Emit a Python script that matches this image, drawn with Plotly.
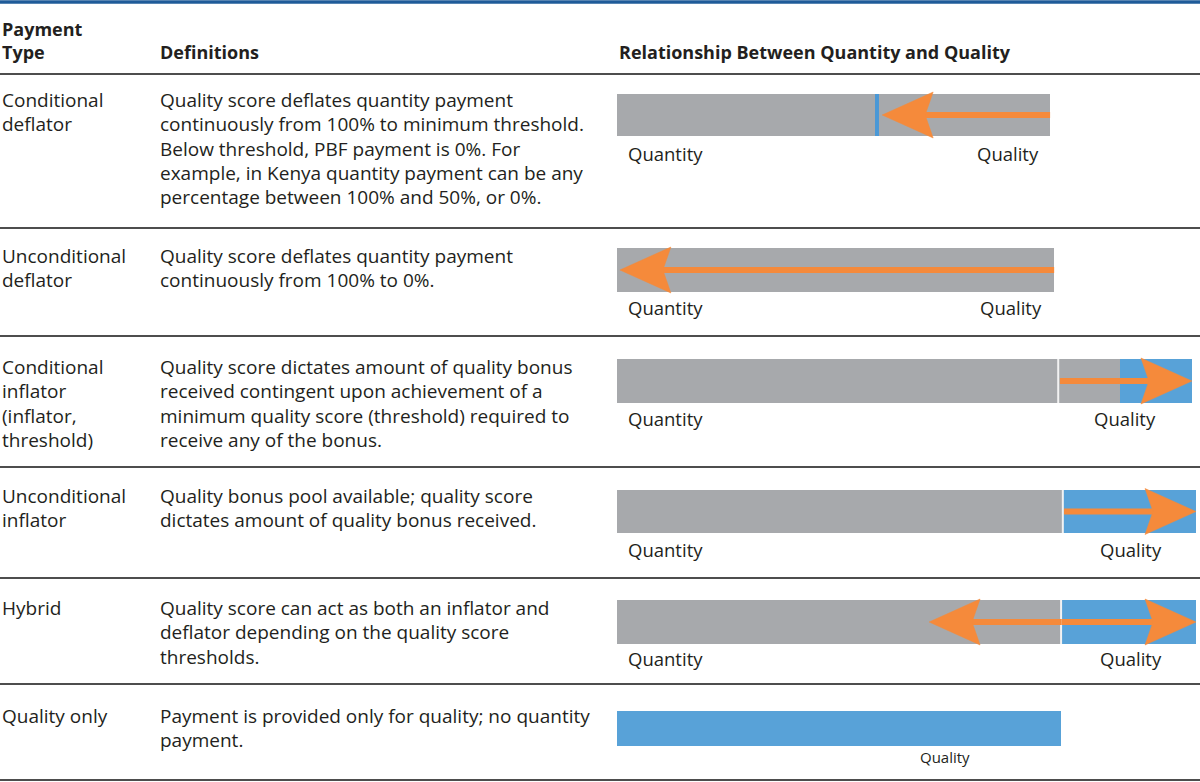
import plotly.graph_objects as go

# ---------------- data ----------------
payment_types = [
    ["Conditional", "deflator"],
    ["Unconditional", "deflator"],
    ["Conditional", "inflator", "(inflator,", "threshold)"],
    ["Unconditional", "inflator"],
    ["Hybrid"],
    ["Quality only"],
]
definitions = [
    ["Quality score deflates quantity payment",
     "continuously from 100% to minimum threshold.",
     "Below threshold, PBF payment is 0%. For",
     "example, in Kenya quantity payment can be any",
     "percentage between 100% and 50%, or 0%."],
    ["Quality score deflates quantity payment",
     "continuously from 100% to 0%."],
    ["Quality score dictates amount of quality bonus",
     "received contingent upon achievement of a",
     "minimum quality score (threshold) required to",
     "receive any of the bonus."],
    ["Quality bonus pool available; quality score",
     "dictates amount of quality bonus received."],
    ["Quality score can act as both an inflator and",
     "deflator depending on the quality score",
     "thresholds."],
    ["Payment is provided only for quality; no quantity",
     "payment."],
]
header_type = ["Payment", "Type"]
header_def = "Definitions"
header_rel = "Relationship Between Quantity and Quality"

# bar segments on a 0-100 scale of the relationship column
gray_row = [0, 1, 2, 3, 4]
gray_start = [0, 0, 0, 0, 0]
gray_end = [74.8, 75.5, 86.9, 77.0, 76.7]

blue_row = [2, 3, 4, 5]
blue_start = [86.9, 77.0, 76.7, 0]
blue_end = [99.3, 100, 100, 76.7]

threshold_row = [0]
threshold_x = [44.9]

divider_row = [2, 3, 4]
divider_x = [76.2, 77.0, 76.7]

arrow_row = [0, 1, 2, 3, 4, 4]
arrow_from = [74.8, 75.5, 76.5, 77.2, 76.8, 76.8]
arrow_to = [45.8, 0.5, 99.3, 100, 53.9, 100]

# ---------------- layout / style ----------------
W, H = 1200, 782
COL_X = [0, 158, 617]
REL_DOMAIN = (617, 1196)
PX_PER_UNIT = (REL_DOMAIN[1] - REL_DOMAIN[0]) / 100.0
rule_y = [74, 228, 336, 467, 578, 684, 780]
text_y0 = [100, 256, 367, 496, 608, 716]
LINE_SP = 24.3
bar_cy = [115, 270, 381, 511.5, 622, 728]
bar_h = [42, 44, 44, 43, 44, 35]
label_y = [153, 307, 418, 549, 658, 757]
quality_label_x = [1008, 1011, 1125, 1131, 1131, 945]

GRAY = "#a7a9ac"
BLUE = "#58a2d8"
ORANGE = "#f58a3b"
TXT = "#231f20"
BODY_FONT = "Open Sans"
LBL_FONT = "Open Sans"
BODY_SIZE = 19
HEAD_SIZE = 18
LBL_SIZE = 18.5

fig = go.Figure()

# gray segments
for r, s, e in zip(gray_row, gray_start, gray_end):
    fig.add_trace(go.Bar(orientation="h", y=[bar_cy[r]], x=[e - s], base=[s],
                         width=bar_h[r], marker=dict(color=GRAY, line=dict(width=0)),
                         xaxis="x2", yaxis="y", hoverinfo="skip", showlegend=False))
# blue segments
for r, s, e in zip(blue_row, blue_start, blue_end):
    fig.add_trace(go.Bar(orientation="h", y=[bar_cy[r]], x=[e - s], base=[s],
                         width=bar_h[r], marker=dict(color=BLUE, line=dict(width=0)),
                         xaxis="x2", yaxis="y", hoverinfo="skip", showlegend=False))
# white dividers
for r, x in zip(divider_row, divider_x):
    fig.add_trace(go.Scatter(x=[x, x], y=[bar_cy[r] - bar_h[r] / 2, bar_cy[r] + bar_h[r] / 2],
                             mode="lines", line=dict(color="#f2f2f2", width=2),
                             xaxis="x2", yaxis="y", hoverinfo="skip", showlegend=False))
# threshold marker
for r, x in zip(threshold_row, threshold_x):
    fig.add_trace(go.Scatter(x=[x, x], y=[bar_cy[r] - bar_h[r] / 2, bar_cy[r] + bar_h[r] / 2],
                             mode="lines", line=dict(color="#4a98d6", width=4),
                             xaxis="x2", yaxis="y", hoverinfo="skip", showlegend=False))

# arrows
HEAD_L = 51 / PX_PER_UNIT
NOTCH = 8 / PX_PER_UNIT
HEAD_HH = 23
for r, a, b in zip(arrow_row, arrow_from, arrow_to):
    d = 1 if b > a else -1
    yc = bar_cy[r]
    shaft_end = b - d * (HEAD_L - NOTCH - 0.3)
    fig.add_trace(go.Scatter(x=[a, shaft_end], y=[yc, yc], mode="lines",
                             line=dict(color=ORANGE, width=6),
                             xaxis="x2", yaxis="y", hoverinfo="skip", showlegend=False))
    hx = [b, b - d * HEAD_L, b - d * (HEAD_L - NOTCH * 0.55), b - d * (HEAD_L - NOTCH),
          b - d * (HEAD_L - NOTCH * 0.55), b - d * HEAD_L, b]
    hy = [yc, yc - HEAD_HH, yc - HEAD_HH * 0.45, yc, yc + HEAD_HH * 0.45, yc + HEAD_HH, yc]
    fig.add_trace(go.Scatter(x=hx, y=hy, mode="lines", fill="toself", fillcolor=ORANGE,
                             line=dict(color=ORANGE, width=0.5),
                             xaxis="x2", yaxis="y", hoverinfo="skip", showlegend=False))


def txt(x, y, text, size, xanchor="left", bold=False, family=BODY_FONT):
    return dict(x=x, y=y, text=("<b>%s</b>" % text) if bold else text, xref="x", yref="y",
                xanchor=xanchor, yanchor="middle", showarrow=False,
                font=dict(family=family, size=size, color=TXT))


ann = [
    txt(COL_X[0], 29, header_type[0], HEAD_SIZE, bold=True),
    txt(COL_X[0], 52, header_type[1], HEAD_SIZE, bold=True),
    txt(COL_X[1], 52, header_def, HEAD_SIZE, bold=True),
    txt(COL_X[2], 52, header_rel, HEAD_SIZE, bold=True),
]
for i in range(len(payment_types)):
    for j, line in enumerate(payment_types[i]):
        ann.append(txt(COL_X[0], text_y0[i] + j * LINE_SP, line, BODY_SIZE))
    for j, line in enumerate(definitions[i]):
        ann.append(txt(COL_X[1], text_y0[i] + j * LINE_SP, line, BODY_SIZE))
    if i < 5:
        ann.append(txt(626, label_y[i], "Quantity", LBL_SIZE, family=LBL_FONT))
        ann.append(txt(quality_label_x[i], label_y[i], "Quality", LBL_SIZE, xanchor="center",
                       family=LBL_FONT))
    else:
        ann.append(txt(quality_label_x[i], label_y[i], "Quality", 15, xanchor="center",
                       family=LBL_FONT))

shapes = [dict(type="line", xref="paper", yref="y", x0=0, x1=1, y0=2, y1=2,
               line=dict(color="#1f5b99", width=3.5))]
for y in rule_y:
    shapes.append(dict(type="line", xref="paper", yref="y", x0=0, x1=1, y0=y, y1=y,
                       line=dict(color="#4d4d4d", width=2)))

fig.update_layout(
    width=W, height=H, margin=dict(l=0, r=0, t=0, b=0),
    paper_bgcolor="white", plot_bgcolor="white",
    barmode="overlay", bargap=0,
    xaxis=dict(range=[0, W], visible=False, fixedrange=True, domain=[0, 1]),
    xaxis2=dict(range=[0, 100], visible=False, domain=[REL_DOMAIN[0] / W, REL_DOMAIN[1] / W],
                anchor="y"),
    yaxis=dict(range=[H, 0], visible=False, fixedrange=True, domain=[0, 1]),
    annotations=ann, shapes=shapes, showlegend=False,
)

fig.write_html("out.html", config={"displayModeBar": False},
               post_script="document.body.style.margin='0';document.body.style.overflow='hidden';")
